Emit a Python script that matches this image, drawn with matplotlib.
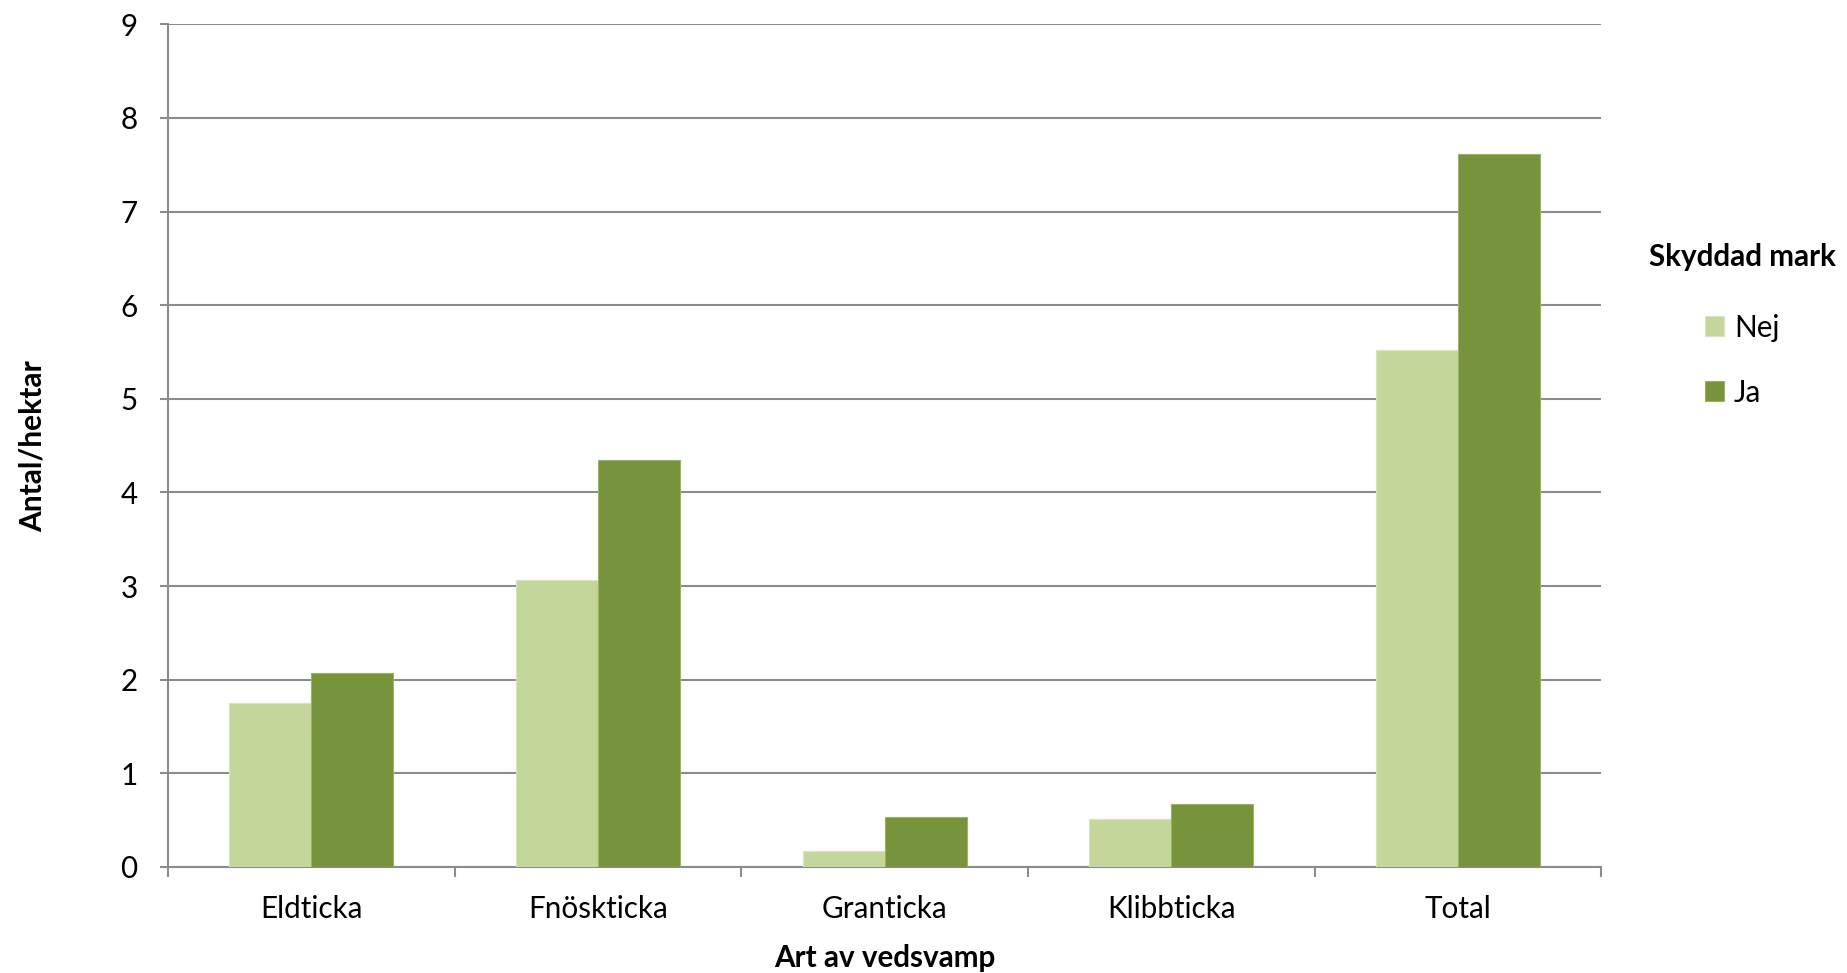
import matplotlib
matplotlib.use("Agg")
import matplotlib.pyplot as plt
import numpy as np

categories = ["Eldticka", "Fnöskticka", "Granticka", "Klibbticka", "Total"]
nej = [1.75, 3.07, 0.17, 0.51, 5.52]
ja = [2.07, 4.35, 0.53, 0.67, 7.62]
series_names = ["Nej", "Ja"]
colors = ["#C4D79B", "#77933C"]

plt.rcParams['font.family'] = ['Lato', 'DejaVu Sans']
FS = 21.3

fig = plt.figure(figsize=(18.47, 9.73), dpi=100)
ax = fig.add_axes([0.091, 0.109, 0.776, 0.866])

x = np.arange(len(categories))
w = 0.286
ax.bar(x - w/2, nej, width=w, color=colors[0], label=series_names[0], zorder=3,
       edgecolor="#D7E4BD", linewidth=0.8)
ax.bar(x + w/2, ja, width=w, color=colors[1], label=series_names[1], zorder=3,
       edgecolor="#9BB360", linewidth=0.8)

ax.set_xlim(-0.5, len(categories) - 0.5)
ax.set_ylim(0, 9)
ax.set_yticks(range(0, 10))
ax.yaxis.grid(True, color="#8C8C8C", linewidth=1.5, zorder=0)
ax.set_axisbelow(True)

ax.set_xticks(x)
ax.set_xticklabels(categories)
ax.set_xticks(np.arange(-0.5, len(categories)), minor=True)
ax.tick_params(axis="x", which="major", length=0, pad=20, labelsize=FS)
ax.tick_params(axis="x", which="minor", length=7, width=1.5, color="#8C8C8C")
ax.tick_params(axis="y", length=6, width=1.5, color="#8C8C8C", labelsize=FS, pad=16)

for s in ["top", "right"]:
    ax.spines[s].set_visible(False)
for s in ["left", "bottom"]:
    ax.spines[s].set_color("#8C8C8C")
    ax.spines[s].set_linewidth(1.5)

ax.set_ylabel("Antal/hektar", fontsize=21.5, fontweight="bold", labelpad=53)
ax.set_xlabel("Art av vedsvamp", fontsize=FS, fontweight="bold", labelpad=15)

leg = ax.legend(loc="upper left", bbox_to_anchor=(1.033, 0.741), frameon=False,
                title="Skyddad mark", fontsize=FS,
                title_fontproperties={"weight": "bold", "size": FS},
                handlelength=0.65, handleheight=0.65, handletextpad=0.35, labelspacing=1.25,
                borderaxespad=0, borderpad=0)
leg._legend_box.sep = 31

fig.savefig("out.png", dpi=100)
